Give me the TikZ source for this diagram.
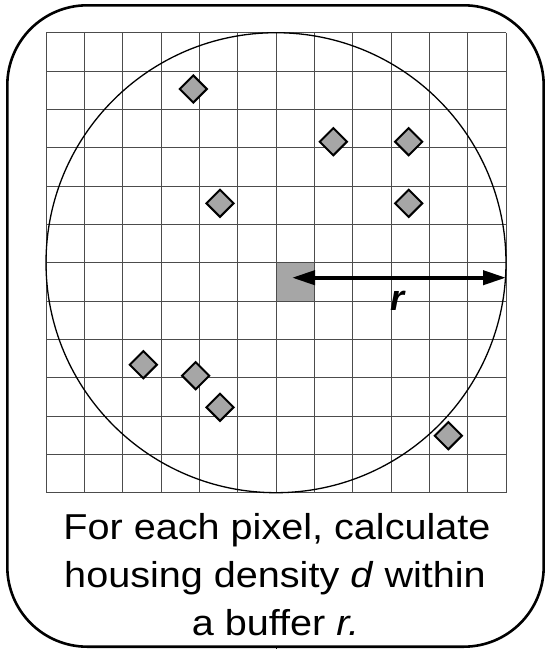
\documentclass[tikz,border=0pt]{standalone}
\usepackage{fontspec}
\setmainfont{Liberation Sans}
\usetikzlibrary{arrows.meta,shapes.geometric}
\tikzset{
  gridline/.style={draw=black!70,line width=0.9pt},
  buffer/.style={draw=black,line width=1.3pt},
  house/.style={diamond,draw=black,line width=2pt,fill=black!35,inner sep=0pt,minimum width=28pt,minimum height=28pt},
  pixelcell/.style={fill=black!35,draw=none},
  radius arrow/.style={line width=4pt,{Triangle[length=23pt,width=14pt]}-{Triangle[length=23pt,width=14pt]}},
  frame/.style={draw=black,line width=2.6pt,rounded corners=80pt},
  caption/.style={font=\fontsize{36}{48}\selectfont,anchor=base,inner sep=0pt,xscale=1.1},
}
\begin{document}
\begin{tikzpicture}[x=1pt,y=-1pt]
\useasboundingbox (0,0) rectangle (545,649);
% gray pixel
\fill[pixelcell] (276,262.3) rectangle (314.3,300.7);
% grid
\foreach \i in {0,...,12}{
  \draw[gridline] ({46+\i*38.333},32.7) -- ({46+\i*38.333},492.7);
  \draw[gridline] (46,{32.7+\i*38.333}) -- (506,{32.7+\i*38.333});
}
% buffer circle
\node[circle,buffer,minimum size=460pt,inner sep=0pt] (buf) at (276,262.7) {};
% houses
\node[house] (h1) at (193.3,89) {};
\node[house] (h2) at (220,203.3) {};
\node[house] (h3) at (333.3,141.7) {};
\node[house] (h4) at (408.7,141.7) {};
\node[house] (h5) at (408.7,203.3) {};
\node[house] (h6) at (143.3,364.7) {};
\node[house] (h7) at (195.7,375.7) {};
\node[house] (h8) at (220,407.3) {};
\node[house] (h9) at (448.3,435.7) {};
% radius arrow
\coordinate (rs) at (292,277.7);
\coordinate (re) at (506,277.7);
\draw[radius arrow] (rs) -- (re);
\node[font=\fontsize{36}{40}\selectfont\bfseries\itshape,inner sep=0pt,anchor=base] (rlab) at (398,310) {r};
% frame
\draw[frame] (7.3,5.3) rectangle (543.7,646.7);
\coordinate (stub) at (276.5,649);
\draw[line width=1.2pt] (276.5,646.7) -- (stub);
% caption
\node[caption] (t1) at (277,539.3) {For each pixel, calculate};
\node[caption] (t2) at (275,587.3) {housing density \textit{d} within};
\node[caption] (t3) at (275.5,635.3) {a buffer \textit{r.}};
\end{tikzpicture}
\end{document}
